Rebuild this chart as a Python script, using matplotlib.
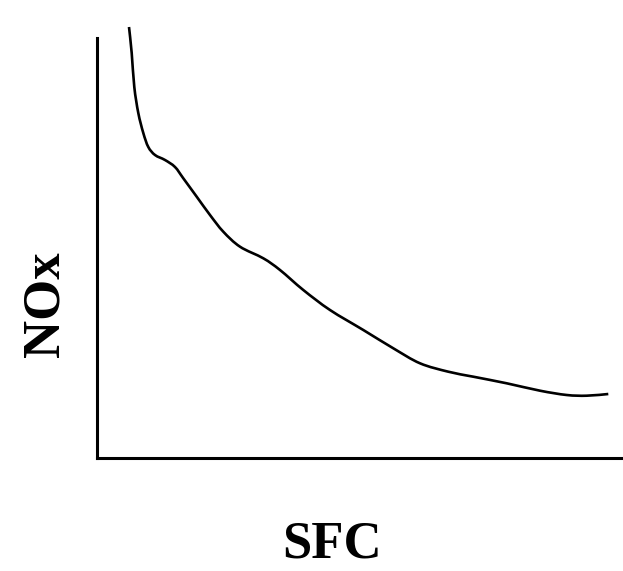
import matplotlib.pyplot as plt
import numpy as np
from matplotlib.path import Path
from matplotlib.patches import PathPatch

# curve (arbitrary units, origin at the axes corner)
sfc = [32, 34.7, 37.3, 41.3, 46.3, 51.3, 58, 68, 78, 86.3, 99.7, 113, 126.3, 143,
       166.3, 183, 206.3, 233, 266.3, 296.3, 323, 351.3, 376.3, 409.7, 443,
       469.7, 489.7, 511.3]
nox = [431, 405, 371, 345, 325, 311, 303, 298, 291, 279.7, 261.3, 243, 226.3,
       211.3, 199.7, 188, 168, 148, 128, 109.7, 94.7, 86.3, 81.3, 74.7, 67.3,
       63, 62.3, 64]


def smooth_path(x, y):
    # Catmull-Rom through the points, drawn as cubic Bezier segments
    p = np.column_stack([x, y])
    pad = np.vstack([p[0], p, p[-1]])
    verts = [p[0]]
    codes = [Path.MOVETO]
    for i in range(1, len(pad) - 2):
        p0, p1, p2, p3 = pad[i - 1], pad[i], pad[i + 1], pad[i + 2]
        verts += [p1 + (p2 - p0) / 6, p2 - (p3 - p1) / 6, p2]
        codes += [Path.CURVE4] * 3
    return Path(verts, codes)


fig = plt.figure(figsize=(6.23, 5.71), dpi=100)
ax = fig.add_axes([97 / 623, 113 / 571, 525 / 623, 420 / 571])

ax.add_patch(PathPatch(smooth_path(sfc, nox), facecolor="none",
                       edgecolor="black", linewidth=1.9, clip_on=False))

ax.set_xlim(0, 525)
ax.set_ylim(0, 420)
ax.set_xticks([])
ax.set_yticks([])
for side in ["top", "right"]:
    ax.spines[side].set_visible(False)
for side in ["left", "bottom"]:
    ax.spines[side].set_linewidth(2.2)

font = dict(family="Liberation Serif", weight="bold", size=38)
fig.text(332 / 623, 1 - 545 / 571, "SFC", ha="center", va="center", **font)
fig.text(45 / 623, 1 - 304 / 571, "NOx", ha="center", va="center",
         rotation=90, **font)

fig.savefig("out.png", dpi=100)
